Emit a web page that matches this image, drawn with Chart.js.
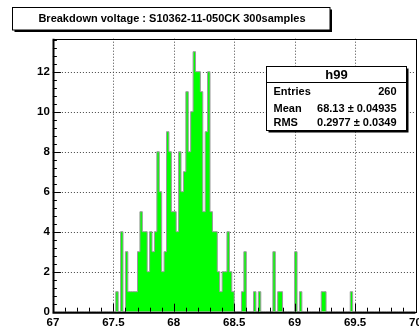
<!DOCTYPE html>
<html><head><meta charset="utf-8">
<script src="https://cdn.jsdelivr.net/npm/chart.js@4.4.1/dist/chart.umd.min.js"></script>
<style>html,body{margin:0;padding:0;background:#fff;overflow:hidden}#wrap{width:419px;height:331px;position:relative}</style>
</head><body><div id="wrap"><canvas id="c" width="419" height="331"></canvas></div>
<script>
// ---- data ----
const titleText = 'Breakdown voltage : S10362-11-050CK 300samples';
const histName = 'h99';
const statLabels = ['Entries', 'Mean', 'RMS'];
const statValues = ['260', '68.13 \u00b1 0.04935', '0.2977 \u00b1 0.0349'];
const xTickValues = [67, 67.5, 68, 68.5, 69, 69.5, 70];
const yTickValues = [0, 2, 4, 6, 8, 10, 12];
const binLow = 67, binHigh = 70;
// bin contents, 150 bins of 0.02 from 67 to 70
const counts = [
  0,0,0,0,0,0,0,0,0,0,
  0,0,0,0,0,0,0,0,0,0,
  0,0,0,0,0,0,1,0,4,0,
  3,1,1,1,1,3,5,4,4,2,
  4,3,4,8,6,2,3,9,8,5,
  5,4,8,6,7,11,8,10,13,12,
  12,11,5,9,12,5,4,4,2,1,
  2,2,4,2,1,0,0,0,1,3,
  0,0,0,1,0,1,0,0,0,0,
  0,3,0,1,1,0,0,0,0,0,
  3,0,1,0,0,0,0,0,0,0,
  0,1,1,0,0,0,0,0,0,0,
  0,0,0,1,0,0,0,0,0,0,
  0,0,0,0,0,0,0,0,0,0,
  0,0,0,0,0,0,0,0,0,0
];
const yMax = 13.65;

// ---- build ----
const binW = (binHigh - binLow) / counts.length;
const pts = counts.map((c, i) => ({x: binLow + i * binW, y: c}));
pts.push({x: binHigh, y: counts[counts.length - 1]});

const FONT = "'Liberation Sans', Arial, Helvetica, sans-serif";
const AREA = {left: 52.9, right: 415.5, top: 38.7, bottom: 311.7};

const rootPlugin = {
  id: 'rootStyle',
  beforeDraw(chart) {
    const ctx = chart.ctx;
    ctx.save(); ctx.fillStyle = '#fff'; ctx.fillRect(0, 0, chart.width, chart.height); ctx.restore();
  },
  beforeDatasetsDraw(chart) {
    const {ctx, chartArea: a, scales: {x, y}} = chart;
    ctx.save();
    ctx.strokeStyle = '#444'; ctx.lineWidth = 1; ctx.setLineDash([1, 2]);
    xTickValues.forEach(v => {
      if (v <= binLow || v >= binHigh) return;
      const px = Math.round(x.getPixelForValue(v)) + 0.5;
      ctx.beginPath(); ctx.moveTo(px, a.top); ctx.lineTo(px, a.bottom); ctx.stroke();
    });
    yTickValues.forEach(v => {
      if (v <= 0) return;
      const py = Math.round(y.getPixelForValue(v)) + 0.5;
      ctx.beginPath(); ctx.moveTo(a.left, py); ctx.lineTo(a.right, py); ctx.stroke();
    });
    ctx.restore();
  },
  afterDatasetsDraw(chart) {
    const {ctx, chartArea: a, scales: {x, y}} = chart;
    ctx.save();
    ctx.strokeStyle = '#000'; ctx.setLineDash([]);
    ctx.lineWidth = 1;
    ctx.strokeRect(Math.round(a.left) + 0.5, Math.round(a.top) + 0.5, Math.round(a.right - a.left), Math.round(a.bottom - a.top));
    ctx.lineWidth = 2;
    ctx.beginPath();
    ctx.moveTo(Math.round(a.left) + 0.5, a.top); ctx.lineTo(Math.round(a.left) + 0.5, a.bottom + 1);
    ctx.lineTo(a.right, a.bottom + 1);
    ctx.stroke();
    ctx.lineWidth = 1;
    for (let k = 0; k <= 30; k++) {
      const v = binLow + k * 0.1;
      const px = Math.round(x.getPixelForValue(v)) + 0.5;
      const len = (k % 5 === 0) ? 8 : 4;
      ctx.beginPath(); ctx.moveTo(px, a.bottom); ctx.lineTo(px, a.bottom - len); ctx.stroke();
    }
    for (let k = 0; k * 0.4 <= yMax; k++) {
      const v = k * 0.4;
      const py = Math.round(y.getPixelForValue(v)) + 0.5;
      const len = (k % 5 === 0) ? 8 : 4;
      ctx.beginPath(); ctx.moveTo(a.left, py); ctx.lineTo(a.left + len, py); ctx.stroke();
    }
    drawPave(ctx, 12.5, 7.5, 317.5, 22.5);
    ctx.fillStyle = '#000';
    ctx.font = 'bold 11px ' + FONT;
    ctx.textAlign = 'center'; ctx.textBaseline = 'middle';
    ctx.fillText(titleText, 172, 19);
    const sx = 266.5, sy = 66.5, sw = 140, sh = 64;
    drawPave(ctx, sx, sy, sw, sh);
    ctx.lineWidth = 1; ctx.strokeStyle = '#000';
    ctx.beginPath(); ctx.moveTo(sx, 82.5); ctx.lineTo(sx + sw, 82.5); ctx.stroke();
    ctx.font = 'bold 13px ' + FONT;
    ctx.textAlign = 'center';
    ctx.fillText(histName, sx + sw / 2, 75);
    ctx.font = 'bold 11px ' + FONT;
    const rowsY = [92, 108.5, 123];
    statLabels.forEach((l, i) => {
      ctx.textAlign = 'left'; ctx.fillText(l, sx + 7, rowsY[i]);
      ctx.textAlign = 'right'; ctx.fillText(statValues[i], sx + sw - 10, rowsY[i]);
    });
    ctx.restore();
  }
};

function drawPave(ctx, x0, y0, w, h) {
  ctx.save();
  ctx.fillStyle = '#000';
  ctx.fillRect(x0 + 2, y0 + 2, w, h);
  ctx.fillStyle = '#fff';
  ctx.fillRect(x0, y0, w, h);
  ctx.strokeStyle = '#000'; ctx.lineWidth = 1;
  ctx.strokeRect(x0, y0, w, h);
  ctx.restore();
}

const tickFont = {family: FONT, weight: 'bold', size: 11.5};

new Chart(document.getElementById('c'), {
  type: 'line',
  data: {datasets: [{
    data: pts,
    stepped: true,
    fill: 'origin',
    backgroundColor: '#00ff00',
    borderColor: '#9a9a9a',
    borderWidth: 1,
    pointRadius: 0,
    tension: 0
  }]},
  options: {
    responsive: false, animation: false, devicePixelRatio: 1,
    parsing: false,
    layout: {padding: {left: 0, top: AREA.top, right: 419 - AREA.right, bottom: 0}},
    plugins: {legend: {display: false}, tooltip: {enabled: false}, title: {display: false}},
    scales: {
      x: {
        type: 'linear', min: binLow, max: binHigh,
        afterBuildTicks: s => { s.ticks = xTickValues.map(v => ({value: v})); },
        afterFit: s => { s.height = 331 - AREA.bottom; s.paddingLeft = 0; s.paddingRight = 0; },
        ticks: {font: tickFont, color: '#000', padding: 4, maxRotation: 0, autoSkip: false,
                callback: v => String(v)},
        grid: {display: false, drawTicks: false},
        border: {display: false}
      },
      y: {
        type: 'linear', min: 0, max: yMax,
        afterBuildTicks: s => { s.ticks = yTickValues.map(v => ({value: v})); },
        afterFit: s => { s.width = AREA.left; s.paddingTop = 0; s.paddingBottom = 0; },
        ticks: {font: tickFont, color: '#000', padding: 3, autoSkip: false,
                callback: v => String(v)},
        grid: {display: false, drawTicks: false},
        border: {display: false}
      }
    }
  },
  plugins: [rootPlugin]
});
</script></body></html>
